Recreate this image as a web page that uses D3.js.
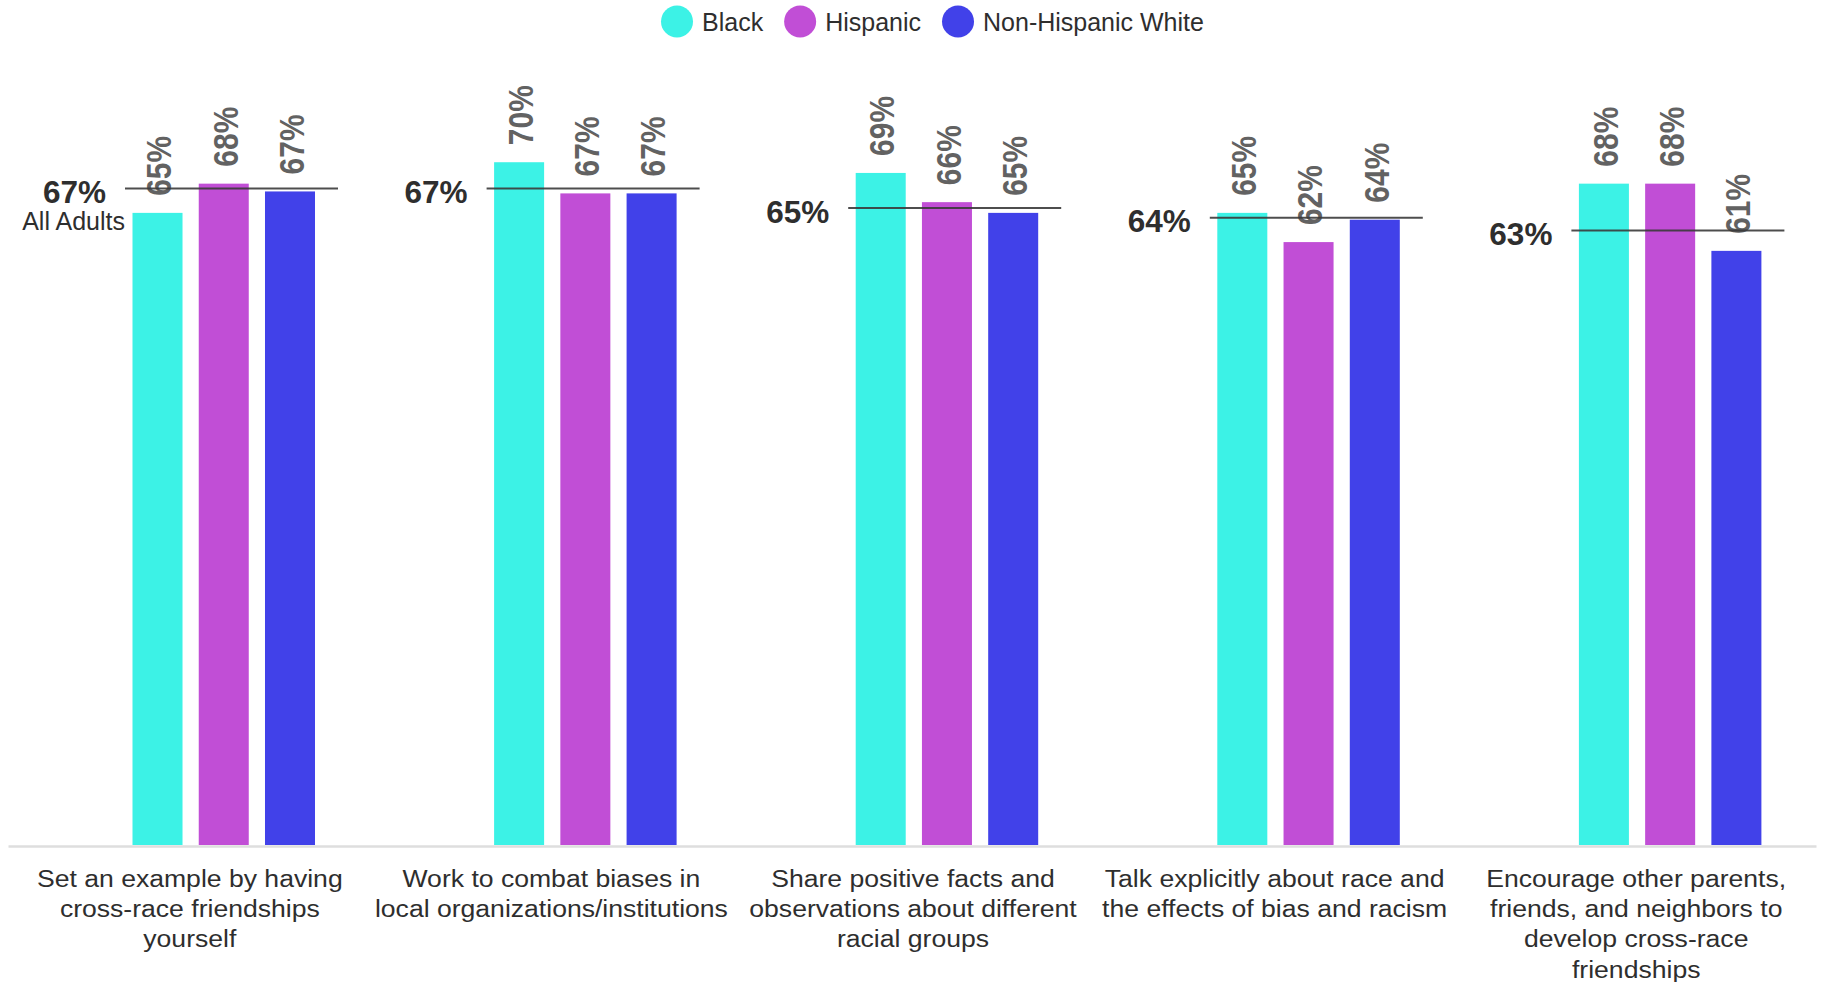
<!DOCTYPE html>
<html>
<head>
<meta charset="utf-8">
<script src="https://cdn.jsdelivr.net/npm/d3@7/dist/d3.min.js"></script>
<style>
  html, body { margin: 0; padding: 0; background: #fff; }
  svg { display: block; font-family: "Liberation Sans", Arial, Helvetica, sans-serif; }
</style>
</head>
<body>
<svg id="chart" width="1829" height="982"></svg>
<script>
// ---- data ----
const categoryLines = [
  ["Set an example by having", "cross-race friendships", "yourself"],
  ["Work to combat biases in", "local organizations/institutions"],
  ["Share positive facts and", "observations about different", "racial groups"],
  ["Talk explicitly about race and", "the effects of bias and racism"],
  ["Encourage other parents,", "friends, and neighbors to", "develop cross-race", "friendships"]
];
const seriesNames = ["Black", "Hispanic", "Non-Hispanic White"];
const seriesColors = ["#3cf2e6", "#c14ed6", "#4141e9"];
const blackValues    = [64.9, 70.1, 69.0, 64.9, 67.9];
const hispanicValues = [67.9, 66.9, 66.0, 61.9, 67.9];
const whiteValues    = [67.1, 66.9, 64.9, 64.2, 61.0];
const allAdultsValues = [67.4, 67.4, 65.4, 64.4, 63.1];
const allAdultsLabel = "All Adults";

const seriesValues = [blackValues, hispanicValues, whiteValues];

// ---- layout ----
const svg = d3.select("#chart");
const baseY = 845;

const x0 = d3.scaleBand().domain(d3.range(categoryLines.length)).range([8, 1816]).paddingInner(0).paddingOuter(0);
const x1 = d3.scaleBand().domain(seriesNames).range([124.5, 307]).paddingInner(0.245);
const y = d3.scaleLinear().domain([0, 100]).range([baseY, baseY - 974]);
const color = d3.scaleOrdinal().domain(seriesNames).range(seriesColors);
const fmt = v => Math.round(v) + "%";

// axis baseline
const axisG = svg.append("g").attr("transform", `translate(0,${baseY + 1})`)
  .call(d3.axisBottom(x0).tickSize(0).tickSizeOuter(0).tickFormat(""));
axisG.select(".domain").attr("stroke", "#dedede").attr("stroke-width", 2.5);

// bars
const groups = svg.append("g").selectAll("g.grp")
  .data(categoryLines.map((c, i) => i))
  .join("g").attr("class", "grp")
  .attr("transform", i => `translate(${x0(i)},0)`);

groups.selectAll("rect")
  .data(i => seriesNames.map((s, k) => ({ s, v: seriesValues[k][i] })))
  .join("rect")
  .attr("x", d => x1(d.s))
  .attr("width", x1.bandwidth())
  .attr("y", d => y(d.v))
  .attr("height", d => baseY - y(d.v))
  .attr("fill", d => color(d.s));

// value labels (rotated)
groups.selectAll("text.val")
  .data(i => seriesNames.map((s, k) => ({ s, v: seriesValues[k][i] })))
  .join("text").attr("class", "val")
  .attr("transform", d => `translate(${x1(d.s) + x1.bandwidth() / 2 + 1.5},${y(d.v) - 17}) rotate(-90) scale(1,1.14)`)
  .attr("dy", "0.358em")
  .attr("text-anchor", "start")
  .attr("font-size", 30)
  .attr("font-weight", "bold")
  .attr("fill", "#626262")
  .text(d => fmt(d.v));

// all-adults reference lines
const lineStart = 117, lineEnd = 330;
groups.append("line")
  .attr("x1", lineStart).attr("x2", lineEnd)
  .attr("y1", i => y(allAdultsValues[i])).attr("y2", i => y(allAdultsValues[i]))
  .attr("stroke", "#3a3a3a").attr("stroke-opacity", 0.9).attr("stroke-width", 2);

groups.append("text")
  .attr("x", lineStart - 19)
  .attr("y", i => y(allAdultsValues[i]) + 14.5)
  .attr("text-anchor", "end")
  .attr("font-size", 31.5)
  .attr("font-weight", "bold")
  .attr("fill", "#2e2e2e")
  .text(i => fmt(allAdultsValues[i]));

groups.filter(i => i === 0).append("text")
  .attr("x", lineStart)
  .attr("y", i => y(allAdultsValues[i]) + 41.3)
  .attr("text-anchor", "end")
  .attr("font-size", 25)
  .attr("fill", "#2e2e2e")
  .text(allAdultsLabel);

// category labels
categoryLines.forEach((lines, i) => {
  const cx = x0(i) + x0.bandwidth() / 2 + 1;
  lines.forEach((ln, j) => {
    svg.append("text")
      .attr("transform", `translate(${cx},${886.7 + j * 30.3}) scale(1.085,1)`)
      .attr("text-anchor", "middle")
      .attr("font-size", 24.5)
      .attr("fill", "#2e2e2e")
      .text(ln);
  });
});

// legend
const legend = svg.append("g");
let lx = 661;
seriesNames.forEach((s, k) => {
  legend.append("circle")
    .attr("cx", lx + 16).attr("cy", 21.5).attr("r", 16)
    .attr("fill", color(s));
  const t = legend.append("text")
    .attr("x", lx + 32 + 9).attr("y", 30.5)
    .attr("font-size", 25)
    .attr("fill", "#2e2e2e")
    .text(s);
  const w = t.node().getComputedTextLength();
  lx = lx + 32 + 9 + w + 21;
});
</script>
</body>
</html>
